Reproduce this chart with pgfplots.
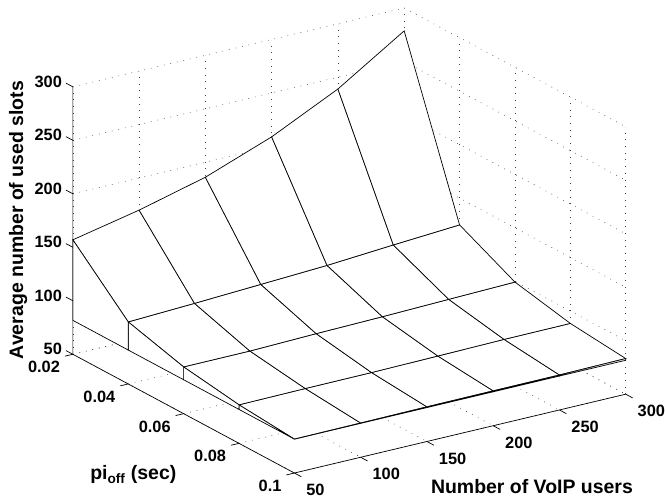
\documentclass[border=0pt]{standalone}
\usepackage{fontspec}
\setmainfont{Liberation Sans}
\usepackage{pgfplots}
\usetikzlibrary{calc}
\pgfplotsset{compat=1.18}
\tikzset{griddot/.style={black!75,line width=0.6pt,dash pattern=on 0.7pt off 6pt}}
\begin{document}
\begin{tikzpicture}
\begin{axis}[
  x={(1.328pt,0.316pt)},
  y={(2.775pt,-1.4875pt)},
  z={(0pt,1.072pt)},
  xmin=50,xmax=300,ymin=20,ymax=100,zmin=50,zmax=300,
  anchor=origin,
  clip=false,
  xtick={50,100,150,200,250,300},
  ytick={20,40,60,80,100},
  ztick={50,100,150,200,250,300},
  xticklabels={50,100,150,200,250,300},
  yticklabels={0.02,0.04,0.06,0.08,0.1},
  zticklabels={50,100,150,200,250,300},
  scaled ticks=false,
  major tick length=0pt,
  axis line style={draw=none},
  tick label style={font=\bfseries\fontsize{16.4}{18}\selectfont,inner sep=0pt,outer sep=0pt},
  xticklabel style={anchor=west,xshift=12pt,yshift=-17pt},
  yticklabel style={anchor=east,xshift=-13pt,yshift=-13pt},
  zticklabel style={anchor=east,xshift=-11pt,yshift=5pt},
  label style={font=\bfseries\fontsize{19.5}{21}\selectfont,inner sep=0pt,outer sep=0pt},
  xlabel={Number of VoIP users},
  ylabel={pi\textsubscript{off} (sec)},
  zlabel={Average number of used slots},
  x label style={at={(axis cs:160.5,132.9,50)},anchor=center,rotate=0,sloped=false},
  y label style={at={(axis cs:-36,83,50)},anchor=center,rotate=0,sloped=false},
  z label style={at={(axis cs:50,0.2,148)},anchor=center,sloped=false},
  colormap={whitemap}{color=(white) color=(white)},
]
% grid on the back wall, the right wall and the floor
\pgfplotsinvokeforeach{50,100,150,200,250,300}{
  \draw[griddot] (axis cs:#1,20,50) -- (axis cs:#1,20,300);
  \draw[griddot] (axis cs:#1,20,50) -- (axis cs:#1,100,50);
}
\pgfplotsinvokeforeach{20,40,60,80,100}{
  \draw[griddot] (axis cs:300,#1,50) -- (axis cs:300,#1,300);
  \draw[griddot] (axis cs:50,#1,50) -- (axis cs:300,#1,50);
}
\pgfplotsinvokeforeach{50,100,150,200,250,300}{
  \draw[griddot] (axis cs:50,20,#1) -- (axis cs:300,20,#1);
  \draw[griddot] (axis cs:300,20,#1) -- (axis cs:300,100,#1);
}
\addplot3[surf,shader=faceted,faceted color=black,line width=0.7pt,z buffer=sort] coordinates {
(50,20,157) (100,20,170) (150,20,186) (200,20,209) (250,20,239) (300,20,278.6)

(50,40,108) (100,40,110.6) (150,40,113.6) (200,40,116.6) (250,40,121) (300,40,125)

(50,60,93.7) (100,60,93.8) (150,60,95.3) (200,60,96.4) (250,60,97.9) (300,60,99.3)

(50,80,86) (100,80,86.5) (150,80,86.7) (200,80,87.4) (250,80,88.2) (300,80,88.4)

(50,100,81.7) (100,100,82) (150,100,82.4) (200,100,82.6) (250,100,82.7) (300,100,83.3)
};
% curtain along users=50
\addplot3[surf,shader=faceted,faceted color=black,line width=0.7pt,z buffer=sort] coordinates {
(50,20,157) (50,40,108) (50,60,93.7) (50,80,86) (50,100,81.7)

(50,20,81.7) (50,40,81.7) (50,60,81.7) (50,80,81.7) (50,100,81.7)
};
% curtain along pi=0.1
\addplot3[surf,shader=faceted,faceted color=black,line width=0.7pt,z buffer=sort] coordinates {
(50,100,81.7) (100,100,82) (150,100,82.4) (200,100,82.6) (250,100,82.7) (300,100,83.3)

(50,100,81.7) (100,100,81.7) (150,100,81.7) (200,100,81.7) (250,100,81.7) (300,100,81.7)
};
\draw[black,line width=0.7pt] (axis cs:50,20,300) -- (axis cs:50,20,50) -- (axis cs:50,100,50) -- (axis cs:300,100,50);
\pgfplotsinvokeforeach{50,100,150,200,250,300}{\draw[black,line width=0.7pt] (axis cs:#1,100,50) -- (axis cs:#1,102.5,50);}
\pgfplotsinvokeforeach{20,40,60,80,100}{\draw[black,line width=0.7pt] (axis cs:50,#1,50) -- (axis cs:44,#1,50);}
\pgfplotsinvokeforeach{50,100,150,200,250,300}{\draw[black,line width=0.7pt] (axis cs:50,20,#1) -- (axis cs:50,17.5,#1);}
\coordinate (A) at (axis cs:50,20,50);
\end{axis}
\path ($(A)+(-73pt,-147pt)$) rectangle ($(A)+(592pt,355pt)$);
\end{tikzpicture}
\end{document}
